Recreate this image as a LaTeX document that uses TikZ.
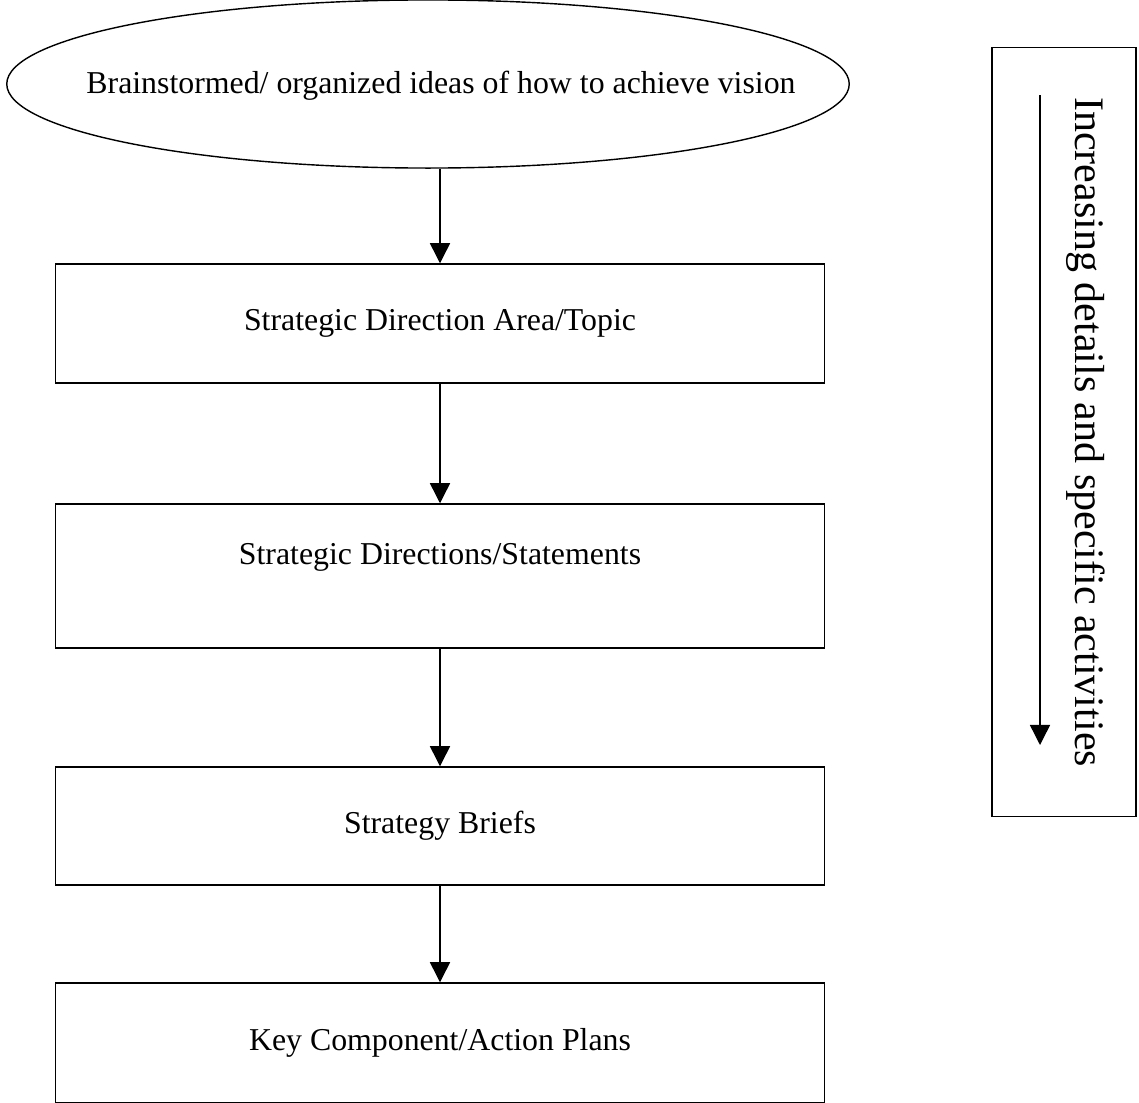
\documentclass[tikz,border=0pt]{standalone}
\usepackage{fontspec}
\setmainfont{Liberation Serif}
\usepackage{tikz}
\usetikzlibrary{arrows.meta,positioning,shapes.geometric}

\newcommand{\boxfont}{\fontsize{9.05pt}{11pt}\selectfont}
\newcommand{\sidefont}{\fontsize{11.95pt}{14pt}\selectfont}

\begin{document}
\begin{tikzpicture}[x=0.01cm,y=-0.01cm,
    stagebox/.style={draw,rectangle,minimum width=7.68cm,inner sep=0pt,font=\boxfont},
    flow/.style={-{Triangle[width=5.7pt,length=5.7pt]}}]
\useasboundingbox (0,0) rectangle (1139,1103);

% Idea ellipse
\node[draw,ellipse,minimum width=8.42cm,minimum height=1.68cm,inner sep=0pt] (ideas) at (428,84) {};
\node[font=\boxfont] (ideastext) at (441,86) {Brainstormed/ organized ideas of how to achieve vision};

% Stages
\node[stagebox,minimum height=1.19cm] (area) at (440,323.5) {Strategic Direction Area/Topic};
\node[stagebox,minimum height=1.44cm,text depth=12.8pt] (statements) at (440,576) {Strategic Directions/Statements};
\node[stagebox,minimum height=1.18cm] (briefs) at (440,826) {Strategy Briefs};
\node[stagebox,minimum height=1.20cm] (plans) at (440,1043) {Key Component/Action Plans};

\draw[flow] (area.north |- ideas.south) -- (area.north);
\draw[flow] (area.south) -- (statements.north);
\draw[flow] (statements.south) -- (briefs.north);
\draw[flow] (briefs.south) -- (plans.north);

% Side box
\node[draw,rectangle,minimum width=1.44cm,minimum height=7.68cm,inner sep=0pt] (detailbox) at (1064,432) {};
\node[font=\sidefont,rotate=-90] (detailtext) at (1086,432) {Increasing details and specific activities};
\coordinate (detailtop) at (1040,95);
\coordinate (detailend) at (1040,745);
\draw[flow] (detailtop) -- (detailend);

\end{tikzpicture}
\end{document}
